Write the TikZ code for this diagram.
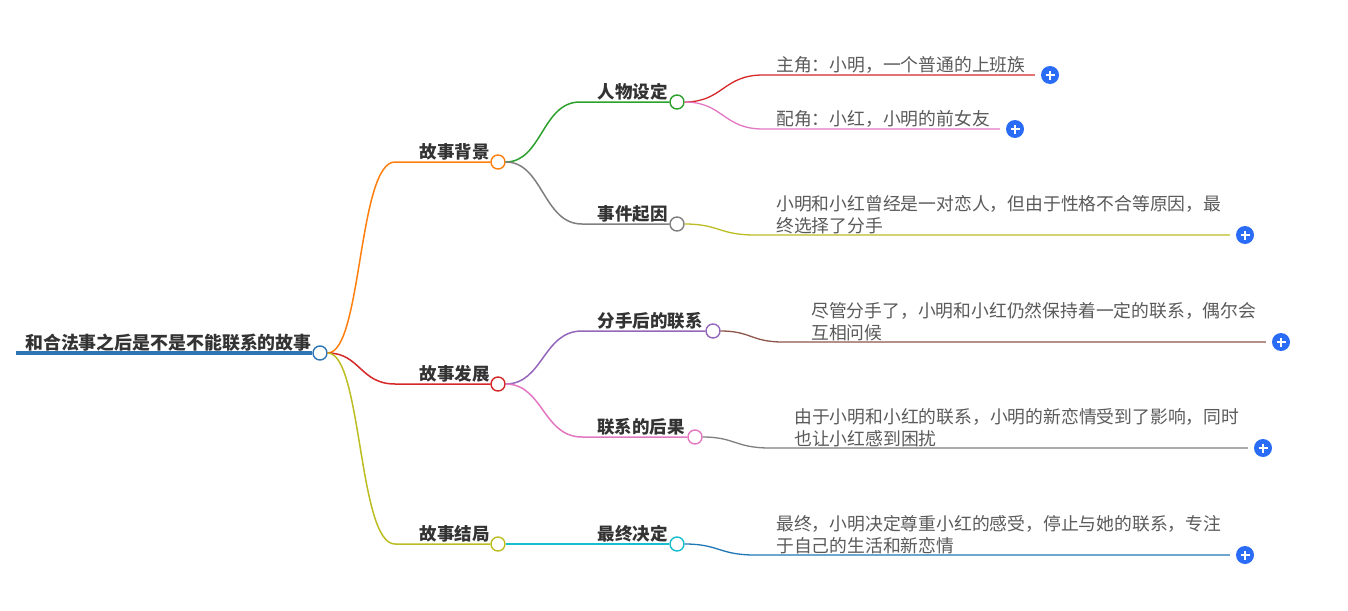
\documentclass[tikz,border=0pt]{standalone}
\usepackage{fontspec}
\setmainfont{Noto Sans CJK SC}
\usetikzlibrary{positioning}

\definecolor{rootblue}{HTML}{2E75B6}
\definecolor{cOrange}{HTML}{FF7F0E}
\definecolor{cRed}{HTML}{D62728}
\definecolor{cOlive}{HTML}{BCBD22}
\definecolor{cGreen}{HTML}{2CA02C}
\definecolor{cGray}{HTML}{7F7F7F}
\definecolor{cPurple}{HTML}{9467BD}
\definecolor{cPink}{HTML}{E377C2}
\definecolor{cCyan}{HTML}{17BECF}
\definecolor{cBrown}{HTML}{8C564B}
\definecolor{cBlue}{HTML}{1F77B4}
\definecolor{plusblue}{HTML}{2A6CF6}
\definecolor{txtdark}{HTML}{333333}
\definecolor{txtgray}{HTML}{5A5A5A}

\begin{document}
\begin{tikzpicture}[x=1pt, y=-1pt,
  dot/.style={circle, draw, fill=white, line width=1.4pt, minimum size=14pt, inner sep=0pt},
  lbl/.style={font=\fontsize{17.5}{21}\selectfont\bfseries, text=txtdark, inner sep=0pt, anchor=base east},
  leaf/.style={font=\fontsize{17.8}{22}\selectfont, text=txtgray, align=left, inner sep=0pt, anchor=south west},
  plus/.style={circle, fill=plusblue, minimum size=18pt, inner sep=0pt,
    path picture={\draw[white, line width=1.8pt]
      ([xshift=-4.5pt]path picture bounding box.center) -- ([xshift=4.5pt]path picture bounding box.center)
      ([yshift=-4.5pt]path picture bounding box.center) -- ([yshift=4.5pt]path picture bounding box.center);}},
  link/.style={line width=1.5pt},
  twig/.style={line width=1.3pt}]

\useasboundingbox[fill=white] (0,0) rectangle (1348,610);

% root
\node[dot, draw=rootblue] (root) at (320,353) {};
\coordinate (rootL) at (16,353);
\draw[rootblue, line width=4pt] (rootL) -- (root.west);
\node[font=\fontsize{17.9}{22}\selectfont\bfseries, text=txtdark, anchor=base west, inner sep=0pt]
  (roottxt) at (25,349) {和合法事之后是不是不能联系的故事};

% first level
\node[dot, draw=cOrange] (bg) at (498,162) {};
\node[dot, draw=cRed] (fz) at (498,384) {};
\node[dot, draw=cOlive] (jj) at (498,544) {};
\coordinate (bgS) at (395,162);
\coordinate (fzS) at (395,384);
\coordinate (jjS) at (395,544);
\draw[link, cOrange] (root.east) .. controls (362,353) and (358,162) .. (bgS) -- (bg.west);
\draw[link, cRed] (root.east) .. controls (360,353) and (360,384) .. (fzS) -- (fz.west);
\draw[link, cOlive] (root.east) .. controls (362,353) and (358,544) .. (jjS) -- (jj.west);
\node[lbl] (bgtxt) at (490,158) {故事背景};
\node[lbl] (fztxt) at (490,380) {故事发展};
\node[lbl] (jjtxt) at (490,540) {故事结局};

% second level
\node[dot, draw=cGreen] (rw) at (677,102) {};
\node[dot, draw=cGray] (qy) at (677,224) {};
\node[dot, draw=cPurple] (lx) at (713,331) {};
\node[dot, draw=cPink] (hg) at (695,437) {};
\node[dot, draw=cCyan] (jd) at (677,544) {};
\coordinate (rwS) at (580,102);
\coordinate (qyS) at (582,224);
\coordinate (lxS) at (582,331);
\coordinate (hgS) at (582,437);
\draw[link, cGreen] (bg.east) .. controls (542,162) and (542,102) .. (rwS) -- (rw.west);
\draw[link, cGray] (bg.east) .. controls (543,162) and (543,224) .. (qyS) -- (qy.west);
\draw[link, cPurple] (fz.east) .. controls (543,384) and (543,331) .. (lxS) -- (lx.west);
\draw[link, cPink] (fz.east) .. controls (543,384) and (543,437) .. (hgS) -- (hg.west);
\draw[link, cCyan] (jj.east) -- (jd.west);
\node[lbl] (rwtxt) at (668,98) {人物设定};
\node[lbl] (qytxt) at (668,220) {事件起因};
\node[lbl] (lxtxt) at (703,327) {分手后的联系};
\node[lbl] (hgtxt) at (685,433) {联系的后果};
\node[lbl] (jdtxt) at (668,540) {最终决定};

% leaves
\node[plus] (zjP) at (1050,75) {};
\node[plus] (pjP) at (1015,129) {};
\node[plus] (qyP) at (1245,235) {};
\node[plus] (lxP) at (1281,342) {};
\node[plus] (hgP) at (1263,448) {};
\node[plus] (jdP) at (1245,555) {};
\coordinate (zjS) at (763,75);
\coordinate (pjS) at (763,129);
\coordinate (qyLS) at (755,235);
\coordinate (lxLS) at (783,342);
\coordinate (hgLS) at (770,448);
\coordinate (jdLS) at (755,555);
\draw[twig, cRed] (rw.east) .. controls (723,102) and (723,75) .. (zjS) -- ([xshift=-6pt]zjP.west);
\draw[twig, cPink] (rw.east) .. controls (723,102) and (723,129) .. (pjS) -- ([xshift=-6pt]pjP.west);
\draw[twig, cOlive] (qy.east) .. controls (719,224) and (719,235) .. (qyLS) -- ([xshift=-6pt]qyP.west);
\draw[twig, cBrown] (lx.east) .. controls (751,331) and (751,342) .. (lxLS) -- ([xshift=-6pt]lxP.west);
\draw[twig, cGray] (hg.east) .. controls (735,437) and (735,448) .. (hgLS) -- ([xshift=-6pt]hgP.west);
\draw[twig, cBlue] (jd.east) .. controls (719,544) and (719,555) .. (jdLS) -- ([xshift=-6pt]jdP.west);

\node[leaf] (zj) at (776,74) {主角：小明，一个普通的上班族};
\node[leaf] (pj) at (776,128) {配角：小红，小明的前女友};
\node[leaf] (qyL) at (776,234) {小明和小红曾经是一对恋人，但由于性格不合等原因，最\\终选择了分手};
\node[leaf] (lxL) at (811,341) {尽管分手了，小明和小红仍然保持着一定的联系，偶尔会\\互相问候};
\node[leaf] (hgL) at (794,447) {由于小明和小红的联系，小明的新恋情受到了影响，同时\\也让小红感到困扰};
\node[leaf] (jdL) at (776,554) {最终，小明决定尊重小红的感受，停止与她的联系，专注\\于自己的生活和新恋情};

\end{tikzpicture}
\end{document}
